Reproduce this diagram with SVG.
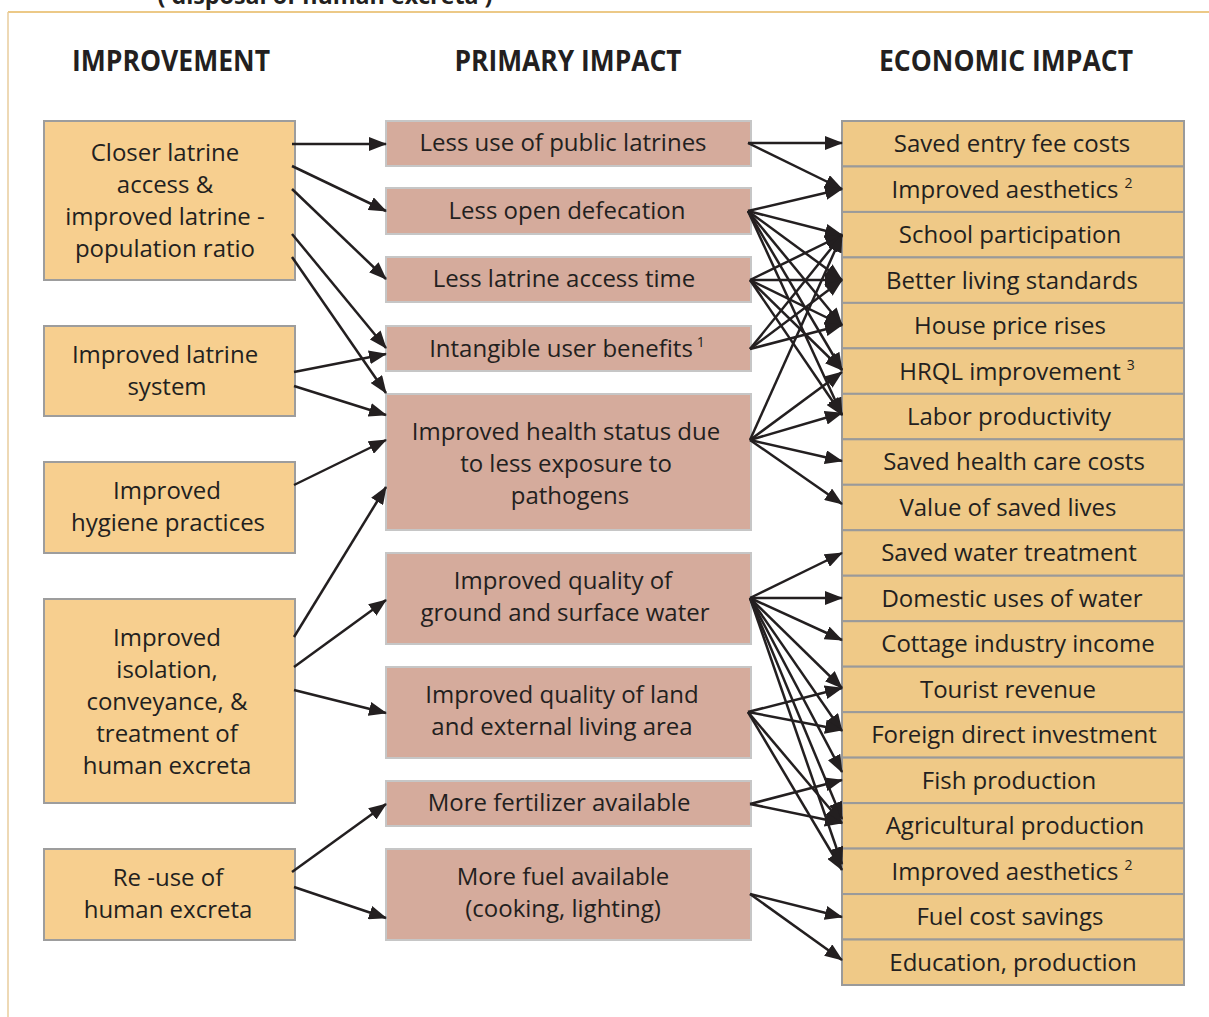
<svg xmlns="http://www.w3.org/2000/svg" width="1209" height="1017" viewBox="0 0 1209 1017">
  <style>
    .t { font-family: "Open Sans", "Liberation Sans", sans-serif; font-size: 24px; fill: #231f20; text-anchor: middle; }
    .h { font-family: "Open Sans", "Liberation Sans", sans-serif; font-size: 28px; font-weight: bold; fill: #231f20; text-anchor: middle; }
    .sup { font-size: 14px; }
    .imp { fill: #f7cf8f; stroke: #9d9d9d; stroke-width: 2; }
    .pri { fill: #d5ab9c; stroke: #c6c6c6; stroke-width: 2; }
    .eco { fill: #efc987; stroke: #9a9a9a; stroke-width: 2; }
    .c line { stroke: #231f20; stroke-width: 2.5; marker-end: url(#head); }
  </style>
  <defs>
    <marker id="head" viewBox="0 0 18 14" refX="17" refY="7" markerWidth="18" markerHeight="14" markerUnits="userSpaceOnUse" orient="auto">
      <path d="M0,0 L18,7 L0,14 z" fill="#231f20"/>
    </marker>
  </defs>

  <rect width="1209" height="1017" fill="#ffffff"/>

  <!-- heading above the frame, running off the page edge -->
  <text x="325" y="4" font-family="Open Sans, Liberation Sans, sans-serif" font-size="24" font-weight="bold" fill="#231f20" text-anchor="middle" textLength="335" lengthAdjust="spacingAndGlyphs">( disposal of human excreta )</text>

  <!-- frame -->
  <line x1="8" y1="12" x2="1209" y2="12" stroke="#ecc987" stroke-width="2"/>
  <line x1="8" y1="12" x2="8" y2="1017" stroke="#e8cc9c" stroke-width="1.5"/>

  <!-- column headings -->
  <text class="h" x="171" y="71" textLength="198" lengthAdjust="spacingAndGlyphs">IMPROVEMENT</text>
  <text class="h" x="568" y="71" textLength="227" lengthAdjust="spacingAndGlyphs">PRIMARY IMPACT</text>
  <text class="h" x="1006" y="71" textLength="254" lengthAdjust="spacingAndGlyphs">ECONOMIC IMPACT</text>

  <!-- improvements -->
  <g id="imp-latrine-access">
    <rect class="imp" x="44" y="121" width="251" height="159"/>
    <text class="t" x="165" y="161">Closer latrine</text>
    <text class="t" x="165" y="193">access &amp;</text>
    <text class="t" x="165" y="225">improved latrine -</text>
    <text class="t" x="165" y="257">population ratio</text>
  </g>
  <g id="imp-latrine-system">
    <rect class="imp" x="44" y="326" width="251" height="90"/>
    <text class="t" x="165" y="363">Improved latrine</text>
    <text class="t" x="167" y="395">system</text>
  </g>
  <g id="imp-hygiene">
    <rect class="imp" x="44" y="462" width="251" height="91"/>
    <text class="t" x="167" y="499">Improved</text>
    <text class="t" x="168" y="531">hygiene practices</text>
  </g>
  <g id="imp-isolation">
    <rect class="imp" x="44" y="599" width="251" height="204"/>
    <text class="t" x="167" y="646">Improved</text>
    <text class="t" x="167" y="678">isolation,</text>
    <text class="t" x="167" y="710">conveyance, &amp;</text>
    <text class="t" x="167" y="742">treatment of</text>
    <text class="t" x="167" y="774">human excreta</text>
  </g>
  <g id="imp-reuse">
    <rect class="imp" x="44" y="849" width="251" height="91"/>
    <text class="t" x="168" y="886">Re -use of</text>
    <text class="t" x="168" y="918">human excreta</text>
  </g>

  <!-- primary impacts -->
  <g id="pri-public-latrines">
    <rect class="pri" x="386" y="121" width="365" height="45"/>
    <text class="t" x="563" y="151">Less use of public latrines</text>
  </g>
  <g id="pri-open-defecation">
    <rect class="pri" x="386" y="188" width="365" height="46"/>
    <text class="t" x="567" y="219">Less open defecation</text>
  </g>
  <g id="pri-access-time">
    <rect class="pri" x="386" y="257" width="365" height="45"/>
    <text class="t" x="564" y="287">Less latrine access time</text>
  </g>
  <g id="pri-intangible">
    <rect class="pri" x="386" y="326" width="365" height="45"/>
    <text class="t" x="567" y="357">Intangible user benefits<tspan class="sup" dx="4" dy="-10">1</tspan></text>
  </g>
  <g id="pri-health">
    <rect class="pri" x="386" y="394" width="365" height="136"/>
    <text class="t" x="566" y="440">Improved health status due</text>
    <text class="t" x="566" y="472">to less exposure to</text>
    <text class="t" x="570" y="504">pathogens</text>
  </g>
  <g id="pri-water">
    <rect class="pri" x="386" y="553" width="365" height="91"/>
    <text class="t" x="563" y="589">Improved quality of</text>
    <text class="t" x="565" y="621">ground and surface water</text>
  </g>
  <g id="pri-land">
    <rect class="pri" x="386" y="667" width="365" height="91"/>
    <text class="t" x="562" y="703">Improved quality of land</text>
    <text class="t" x="562" y="735">and external living area</text>
  </g>
  <g id="pri-fertilizer">
    <rect class="pri" x="386" y="781" width="365" height="45"/>
    <text class="t" x="559" y="811">More fertilizer available</text>
  </g>
  <g id="pri-fuel">
    <rect class="pri" x="386" y="849" width="365" height="91"/>
    <text class="t" x="563" y="885">More fuel available</text>
    <text class="t" x="563" y="917">(cooking, lighting)</text>
  </g>

  <!-- economic impacts: 19 rows of 45.47 -->
  <g id="eco-entry-fee"><rect class="eco" x="842" y="121" width="342" height="45.47"/><text class="t" x="1012" y="152">Saved entry fee costs</text></g>
  <g id="eco-aesthetics-a"><rect class="eco" x="842" y="166.47" width="342" height="45.47"/><text class="t" x="1012" y="198">Improved aesthetics<tspan class="sup" dx="6" dy="-10">2</tspan></text></g>
  <g id="eco-school"><rect class="eco" x="842" y="211.95" width="342" height="45.47"/><text class="t" x="1010" y="243">School participation</text></g>
  <g id="eco-living"><rect class="eco" x="842" y="257.42" width="342" height="45.47"/><text class="t" x="1012" y="289">Better living standards</text></g>
  <g id="eco-house"><rect class="eco" x="842" y="302.89" width="342" height="45.47"/><text class="t" x="1010" y="334">House price rises</text></g>
  <g id="eco-hrql"><rect class="eco" x="842" y="348.37" width="342" height="45.47"/><text class="t" x="1017" y="380">HRQL improvement<tspan class="sup" dx="6" dy="-10">3</tspan></text></g>
  <g id="eco-labor"><rect class="eco" x="842" y="393.84" width="342" height="45.47"/><text class="t" x="1009" y="425">Labor productivity</text></g>
  <g id="eco-health-costs"><rect class="eco" x="842" y="439.32" width="342" height="45.47"/><text class="t" x="1014" y="470">Saved health  care costs</text></g>
  <g id="eco-lives"><rect class="eco" x="842" y="484.79" width="342" height="45.47"/><text class="t" x="1008" y="516">Value of saved lives</text></g>
  <g id="eco-water-treatment"><rect class="eco" x="842" y="530.26" width="342" height="45.47"/><text class="t" x="1009" y="561">Saved water treatment</text></g>
  <g id="eco-domestic-water"><rect class="eco" x="842" y="575.74" width="342" height="45.47"/><text class="t" x="1012" y="607">Domestic uses of water</text></g>
  <g id="eco-cottage"><rect class="eco" x="842" y="621.21" width="342" height="45.47"/><text class="t" x="1018" y="652">Cottage industry income</text></g>
  <g id="eco-tourist"><rect class="eco" x="842" y="666.68" width="342" height="45.47"/><text class="t" x="1008" y="698">Tourist revenue</text></g>
  <g id="eco-fdi"><rect class="eco" x="842" y="712.16" width="342" height="45.47"/><text class="t" x="1014" y="743">Foreign direct investment</text></g>
  <g id="eco-fish"><rect class="eco" x="842" y="757.63" width="342" height="45.47"/><text class="t" x="1009" y="789">Fish production</text></g>
  <g id="eco-agriculture"><rect class="eco" x="842" y="803.11" width="342" height="45.47"/><text class="t" x="1015" y="834">Agricultural production</text></g>
  <g id="eco-aesthetics-b"><rect class="eco" x="842" y="848.58" width="342" height="45.47"/><text class="t" x="1012" y="880">Improved aesthetics<tspan class="sup" dx="6" dy="-10">2</tspan></text></g>
  <g id="eco-fuel-savings"><rect class="eco" x="842" y="894.05" width="342" height="45.47"/><text class="t" x="1010" y="925">Fuel cost savings</text></g>
  <g id="eco-education"><rect class="eco" x="842" y="939.53" width="342" height="45.47"/><text class="t" x="1013" y="971">Education, production</text></g>

  <!-- connectors -->
  <g id="connectors" class="c">
    <!-- improvement to primary impact -->
    <line x1="292" y1="144" x2="386" y2="144"/>
    <line x1="292" y1="166" x2="386" y2="211"/>
    <line x1="292" y1="189" x2="386" y2="279"/>
    <line x1="292" y1="234" x2="386" y2="348"/>
    <line x1="292" y1="257" x2="386" y2="393"/>
    <line x1="294" y1="372" x2="386" y2="354"/>
    <line x1="294" y1="386" x2="386" y2="415"/>
    <line x1="294" y1="485" x2="386" y2="440"/>
    <line x1="294" y1="637" x2="386" y2="487"/>
    <line x1="294" y1="667" x2="386" y2="600"/>
    <line x1="294" y1="690" x2="386" y2="713"/>
    <line x1="292" y1="872" x2="386" y2="804"/>
    <line x1="294" y1="887" x2="386" y2="918"/>

    <!-- primary impact to economic impact -->
    <line x1="748" y1="143" x2="842" y2="143"/>
    <line x1="748" y1="143" x2="842" y2="189"/>

    <line x1="748" y1="211" x2="842" y2="189"/>
    <line x1="748" y1="211" x2="842" y2="235"/>
    <line x1="748" y1="211" x2="842" y2="280"/>
    <line x1="748" y1="211" x2="842" y2="325"/>
    <line x1="748" y1="211" x2="842" y2="370"/>
    <line x1="748" y1="211" x2="842" y2="415"/>

    <line x1="750" y1="280" x2="842" y2="235"/>
    <line x1="750" y1="280" x2="842" y2="280"/>
    <line x1="750" y1="280" x2="842" y2="325"/>
    <line x1="750" y1="280" x2="842" y2="370"/>
    <line x1="750" y1="280" x2="842" y2="415"/>

    <line x1="750" y1="349" x2="842" y2="235"/>
    <line x1="750" y1="349" x2="842" y2="280"/>
    <line x1="750" y1="349" x2="842" y2="325"/>

    <line x1="750" y1="440" x2="842" y2="235"/>
    <line x1="750" y1="440" x2="842" y2="372"/>
    <line x1="750" y1="440" x2="842" y2="413"/>
    <line x1="750" y1="440" x2="842" y2="461"/>
    <line x1="750" y1="440" x2="842" y2="504"/>

    <line x1="750" y1="598" x2="842" y2="553"/>
    <line x1="750" y1="598" x2="842" y2="598"/>
    <line x1="750" y1="598" x2="842" y2="640"/>
    <line x1="750" y1="598" x2="842" y2="688"/>
    <line x1="750" y1="598" x2="842" y2="731"/>
    <line x1="750" y1="598" x2="842" y2="772"/>
    <line x1="750" y1="598" x2="842" y2="819"/>
    <line x1="750" y1="598" x2="842" y2="864"/>

    <line x1="748" y1="712" x2="842" y2="688"/>
    <line x1="748" y1="712" x2="842" y2="730"/>
    <line x1="748" y1="712" x2="842" y2="823"/>
    <line x1="748" y1="712" x2="842" y2="870"/>

    <line x1="750" y1="804" x2="842" y2="780"/>
    <line x1="750" y1="804" x2="842" y2="823"/>

    <line x1="750" y1="894" x2="842" y2="917"/>
    <line x1="750" y1="894" x2="842" y2="960"/>
  </g>
</svg>
